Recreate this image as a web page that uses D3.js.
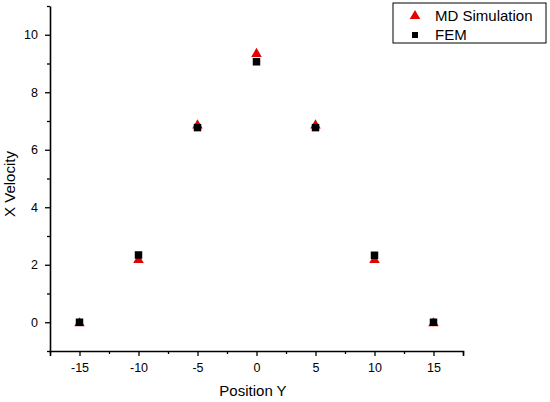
<!DOCTYPE html>
<html>
<head>
<meta charset="utf-8">
<script src="https://cdn.jsdelivr.net/npm/d3@7"></script>
<style>
  body { margin: 0; background: #fff; }
  text { font-family: Arial, "Liberation Sans", sans-serif; }
</style>
</head>
<body>
<div id="chart"></div>
<script>
// # Data.
const positions = [-15, -10, -5, 0, 5, 10, 15]
const mdValues = [0.0, 2.2, 6.88, 9.37, 6.88, 2.2, 0.0]
const femValues = [0.0, 2.34, 6.77, 9.06, 6.77, 2.33, 0.0]
const xTicks = [-15, -10, -5, 0, 5, 10, 15]
const yTicks = [0, 2, 4, 6, 8, 10]
const seriesNames = ['MD Simulation', 'FEM']

// # Layout.
const width = 550
const height = 402
const margin = {left: 50, right: 87, top: 6, bottom: 51}

const svg = d3.select('#chart')
    .append('svg')
    .attr('width', width)
    .attr('height', height)

const x = d3.scaleLinear()
    .domain([-17.5, 17.5])
    .range([margin.left, width - margin.right])

const y = d3.scaleLinear()
    .domain([-1, 11])
    .range([height - margin.bottom, margin.top])

// # Plain hyphen minus, like the original.
const fmt = d => String(d)

// # Minor ticks first, then the main axes.
const xMinor = d3.range(-17.5, 17.6, 2.5).filter(v => v % 5 !== 0)
const yMinor = d3.range(-1, 11.1, 2)

svg.append('g')
    .attr('transform', 'translate(0,' + (height - margin.bottom) + ')')
    .call(d3.axisBottom(x).tickValues(xMinor).tickSize(3).tickFormat(''))
    .call(g => g.select('.domain').remove())
    .selectAll('line').attr('stroke-width', 1.3)

svg.append('g')
    .attr('transform', 'translate(' + margin.left + ',0)')
    .call(d3.axisLeft(y).tickValues(yMinor).tickSize(3).tickFormat(''))
    .call(g => g.select('.domain').remove())
    .selectAll('line').attr('stroke-width', 1.3)

const xAxis = svg.append('g')
    .attr('transform', 'translate(0,' + (height - margin.bottom) + ')')
    .call(d3.axisBottom(x).tickValues(xTicks).tickFormat(fmt)
        .tickSize(5).tickSizeOuter(5).tickPadding(7))
xAxis.select('.domain').attr('stroke-width', 1.6)
xAxis.selectAll('.tick line').attr('stroke-width', 1.3)
xAxis.selectAll('text').attr('font-size', 12.5).attr('fill', '#000')

const yAxis = svg.append('g')
    .attr('transform', 'translate(' + margin.left + ',0)')
    .call(d3.axisLeft(y).tickValues(yTicks).tickFormat(fmt)
        .tickSize(5).tickSizeOuter(0).tickPadding(7))
yAxis.select('.domain').attr('stroke-width', 1.6)
yAxis.selectAll('.tick line').attr('stroke-width', 1.3)
yAxis.selectAll('text').attr('font-size', 12.5).attr('fill', '#000')

// # Axis titles.
svg.append('text')
    .attr('x', 253)
    .attr('y', 396)
    .attr('text-anchor', 'middle')
    .attr('font-size', 15)
    .text('Position Y')

svg.append('text')
    .attr('transform', 'translate(15,184) rotate(-90)')
    .attr('text-anchor', 'middle')
    .attr('font-size', 15)
    .text('X Velocity')

// # Markers.
const triangle = d3.symbol().type(d3.symbolTriangle).size(48)
const square = d3.symbol().type(d3.symbolSquare).size(56)

svg.append('g').selectAll('path')
    .data(positions.map((p, i) => [p, mdValues[i]]))
    .enter().append('path')
    .attr('d', triangle)
    .attr('fill', '#e60000')
    .attr('transform', d => 'translate(' + x(d[0]) + ',' + (y(d[1]) + 1) + ')')

svg.append('g').selectAll('path')
    .data(positions.map((p, i) => [p, femValues[i]]))
    .enter().append('path')
    .attr('d', square)
    .attr('fill', '#000')
    .attr('transform', d => 'translate(' + x(d[0]) + ',' + y(d[1]) + ')')

// # Legend.
const legend = svg.append('g').attr('transform', 'translate(393,3)')
legend.append('rect')
    .attr('width', 153)
    .attr('height', 40)
    .attr('fill', '#fff')
    .attr('stroke', '#000')
    .attr('stroke-width', 1)
const legendRows = legend.selectAll('g.row')
    .data(seriesNames)
    .enter().append('g')
    .attr('class', 'row')
    .attr('transform', (d, i) => 'translate(0,' + (12 + i * 19) + ')')
legendRows.append('path')
    .attr('d', (d, i) => i === 0 ? triangle() : d3.symbol().type(d3.symbolSquare).size(36)())
    .attr('fill', (d, i) => i === 0 ? '#e60000' : '#000')
    .attr('transform', 'translate(22,1)')
legendRows.append('text')
    .attr('x', 42)
    .attr('y', 6)
    .attr('font-size', 15)
    .text(d => d)
</script>
</body>
</html>
